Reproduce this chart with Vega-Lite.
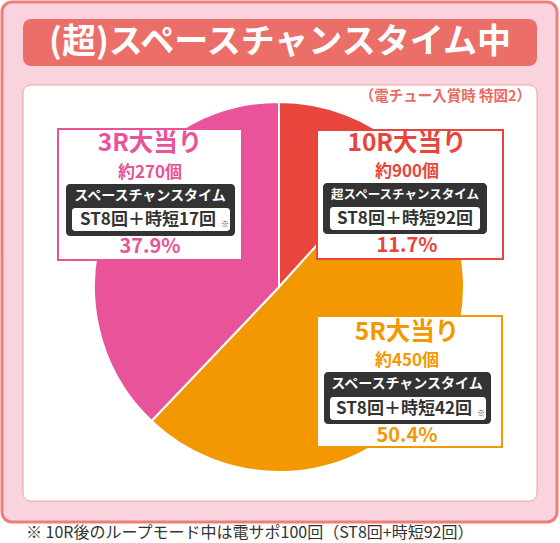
{
  "$schema": "https://vega.github.io/schema/vega-lite/v6.json",
  "description": "(超)スペースチャンスタイム中 振り分け",
  "width": 560,
  "height": 543,
  "autosize": {"type": "fit", "contains": "padding"},
  "padding": 0,
  "background": "white",
  "config": {
    "view": {"stroke": null},
    "font": "Noto Sans CJK JP",
    "axis": {"disable": true},
    "text": {"font": "Noto Sans CJK JP", "baseline": "middle", "align": "center", "fontWeight": "bold"}
  },
  "datasets": {
    "rounds": [
      {"round": "10R", "label": "10R大当り", "balls": "約900個", "mode": "超スペースチャンスタイム", "detail": "ST8回＋時短92回", "share": 0.117, "count": 900},
      {"round": "5R", "label": "5R大当り", "balls": "約450個", "mode": "スペースチャンスタイム", "detail": "ST8回＋時短42回", "share": 0.504, "count": 450},
      {"round": "3R", "label": "3R大当り", "balls": "約270個", "mode": "スペースチャンスタイム", "detail": "ST8回＋時短17回", "share": 0.379, "count": 270}
    ]
  },
  "data": {"name": "rounds"},
  "layer": [
    {
      "data": {"values": [{}]},
      "mark": {"type": "rect", "fill": "#f9d4de", "stroke": "#ef7d7a", "strokeWidth": 3, "cornerRadius": 10},
      "encoding": {
        "x": {"datum": 2, "type": "quantitative", "scale": {"domain": [0, 560], "nice": false, "zero": false}, "axis": null},
        "x2": {"datum": 557},
        "y": {"datum": 2, "type": "quantitative", "scale": {"domain": [0, 543], "nice": false, "zero": false, "reverse": true}, "axis": null},
        "y2": {"datum": 522}
      }
    },
    {
      "data": {"values": [{}]},
      "mark": {"type": "rect", "fill": "#ec6e69", "cornerRadius": 8},
      "encoding": {"x": {"datum": 23}, "x2": {"datum": 537}, "y": {"datum": 19}, "y2": {"datum": 66}}
    },
    {
      "data": {"values": [{}]},
      "mark": {"type": "text", "text": "(超)スペースチャンスタイム中", "fill": "white", "fontSize": 34},
      "encoding": {"x": {"datum": 280}, "y": {"datum": 43}}
    },
    {
      "data": {"values": [{}]},
      "mark": {"type": "rect", "fill": "white", "stroke": "#f2a09c", "strokeWidth": 1, "cornerRadius": 8},
      "encoding": {"x": {"datum": 23}, "x2": {"datum": 537}, "y": {"datum": 85}, "y2": {"datum": 501}}
    },
    {
      "data": {"values": [{}]},
      "mark": {"type": "text", "text": "（電チュー入賞時 特図2）", "fill": "#ea6a64", "fontSize": 14.5, "align": "right"},
      "encoding": {"x": {"datum": 531}, "y": {"datum": 97}}
    },
    {
      "data": {"values": [{}]},
      "mark": {"type": "text", "text": "※ 10R後のループモード中は電サポ100回（ST8回+時短92回）", "fill": "#333333", "fontSize": 16, "fontWeight": "normal", "align": "left"},
      "encoding": {"x": {"datum": 26}, "y": {"datum": 533}}
    },
    {
      "mark": {"type": "arc", "outerRadius": 185, "stroke": "white", "strokeWidth": 2},
      "encoding": {
        "x": {"datum": 279},
        "y": {"datum": 287},
        "theta": {"field": "share", "type": "quantitative", "stack": true},
        "order": {"field": "count", "type": "quantitative", "sort": "descending"},
        "color": {"field": "round", "type": "nominal", "legend": null,
          "scale": {"domain": ["10R", "5R", "3R"], "range": ["#e8463c", "#f39800", "#e9539a"]}}
      }
    },
    {
      "transform": [{"filter": "datum.round === '3R'"}],
      "layer": [
        {"mark": {"type": "rect", "fill": "white", "stroke": "#e9539a", "strokeWidth": 2},
         "encoding": {"x": {"datum": 58}, "x2": {"datum": 242}, "y": {"datum": 129}, "y2": {"datum": 260}}},
        {"mark": {"type": "text", "fill": "#e9539a", "fontSize": 24.5},
         "encoding": {"x": {"datum": 150}, "y": {"datum": 144}, "text": {"field": "label"}}},
        {"mark": {"type": "text", "fill": "#e9539a", "fontSize": 17},
         "encoding": {"x": {"datum": 150}, "y": {"datum": 173}, "text": {"field": "balls"}}},
        {"mark": {"type": "rect", "fill": "#333333", "cornerRadius": 4},
         "encoding": {"x": {"datum": 66}, "x2": {"datum": 235}, "y": {"datum": 184}, "y2": {"datum": 236}}},
        {"mark": {"type": "text", "fill": "white", "fontSize": 14},
         "encoding": {"x": {"datum": 150}, "y": {"datum": 196}, "text": {"field": "mode"}}},
        {"mark": {"type": "rect", "fill": "white", "cornerRadius": 3},
         "encoding": {"x": {"datum": 72}, "x2": {"datum": 230}, "y": {"datum": 208}, "y2": {"datum": 231}}},
        {"mark": {"type": "text", "fill": "#333333", "fontSize": 17},
         "encoding": {"x": {"datum": 148}, "y": {"datum": 220}, "text": {"field": "detail"}}},
        {"mark": {"type": "text", "text": "※", "fill": "#333333", "fontSize": 8, "fontWeight": "normal"},
         "encoding": {"x": {"datum": 225}, "y": {"datum": 225}}},
        {"mark": {"type": "text", "fill": "#e9539a", "fontSize": 20},
         "encoding": {"x": {"datum": 150}, "y": {"datum": 247}, "text": {"field": "share", "format": ".1%"}}}
      ]
    },
    {
      "transform": [{"filter": "datum.round === '10R'"}],
      "layer": [
        {"mark": {"type": "rect", "fill": "white", "stroke": "#e8463c", "strokeWidth": 2},
         "encoding": {"x": {"datum": 317}, "x2": {"datum": 503}, "y": {"datum": 130}, "y2": {"datum": 259}}},
        {"mark": {"type": "text", "fill": "#e8463c", "fontSize": 24.5},
         "encoding": {"x": {"datum": 407}, "y": {"datum": 144}, "text": {"field": "label"}}},
        {"mark": {"type": "text", "fill": "#e8463c", "fontSize": 17},
         "encoding": {"x": {"datum": 407}, "y": {"datum": 172}, "text": {"field": "balls"}}},
        {"mark": {"type": "rect", "fill": "#333333", "cornerRadius": 4},
         "encoding": {"x": {"datum": 323}, "x2": {"datum": 487}, "y": {"datum": 183}, "y2": {"datum": 234}}},
        {"mark": {"type": "text", "fill": "white", "fontSize": 12.5},
         "encoding": {"x": {"datum": 405}, "y": {"datum": 195}, "text": {"field": "mode"}}},
        {"mark": {"type": "rect", "fill": "white", "cornerRadius": 3},
         "encoding": {"x": {"datum": 330}, "x2": {"datum": 480}, "y": {"datum": 207}, "y2": {"datum": 230}}},
        {"mark": {"type": "text", "fill": "#333333", "fontSize": 17},
         "encoding": {"x": {"datum": 405}, "y": {"datum": 219}, "text": {"field": "detail"}}},
        {"mark": {"type": "text", "fill": "#e8463c", "fontSize": 20},
         "encoding": {"x": {"datum": 407}, "y": {"datum": 246}, "text": {"field": "share", "format": ".1%"}}}
      ]
    },
    {
      "transform": [{"filter": "datum.round === '5R'"}],
      "layer": [
        {"mark": {"type": "rect", "fill": "white", "stroke": "#f39800", "strokeWidth": 2},
         "encoding": {"x": {"datum": 317}, "x2": {"datum": 502}, "y": {"datum": 316}, "y2": {"datum": 447}}},
        {"mark": {"type": "text", "fill": "#f39800", "fontSize": 24.5},
         "encoding": {"x": {"datum": 407}, "y": {"datum": 333}, "text": {"field": "label"}}},
        {"mark": {"type": "text", "fill": "#f39800", "fontSize": 17},
         "encoding": {"x": {"datum": 407}, "y": {"datum": 361}, "text": {"field": "balls"}}},
        {"mark": {"type": "rect", "fill": "#333333", "cornerRadius": 4},
         "encoding": {"x": {"datum": 324}, "x2": {"datum": 491}, "y": {"datum": 372}, "y2": {"datum": 424}}},
        {"mark": {"type": "text", "fill": "white", "fontSize": 14},
         "encoding": {"x": {"datum": 407}, "y": {"datum": 384}, "text": {"field": "mode"}}},
        {"mark": {"type": "rect", "fill": "white", "cornerRadius": 3},
         "encoding": {"x": {"datum": 330}, "x2": {"datum": 486}, "y": {"datum": 397}, "y2": {"datum": 420}}},
        {"mark": {"type": "text", "fill": "#333333", "fontSize": 17},
         "encoding": {"x": {"datum": 404}, "y": {"datum": 409}, "text": {"field": "detail"}}},
        {"mark": {"type": "text", "text": "※", "fill": "#333333", "fontSize": 8, "fontWeight": "normal"},
         "encoding": {"x": {"datum": 481}, "y": {"datum": 414}}},
        {"mark": {"type": "text", "fill": "#f39800", "fontSize": 20},
         "encoding": {"x": {"datum": 407}, "y": {"datum": 436}, "text": {"field": "share", "format": ".1%"}}}
      ]
    }
  ]
}
